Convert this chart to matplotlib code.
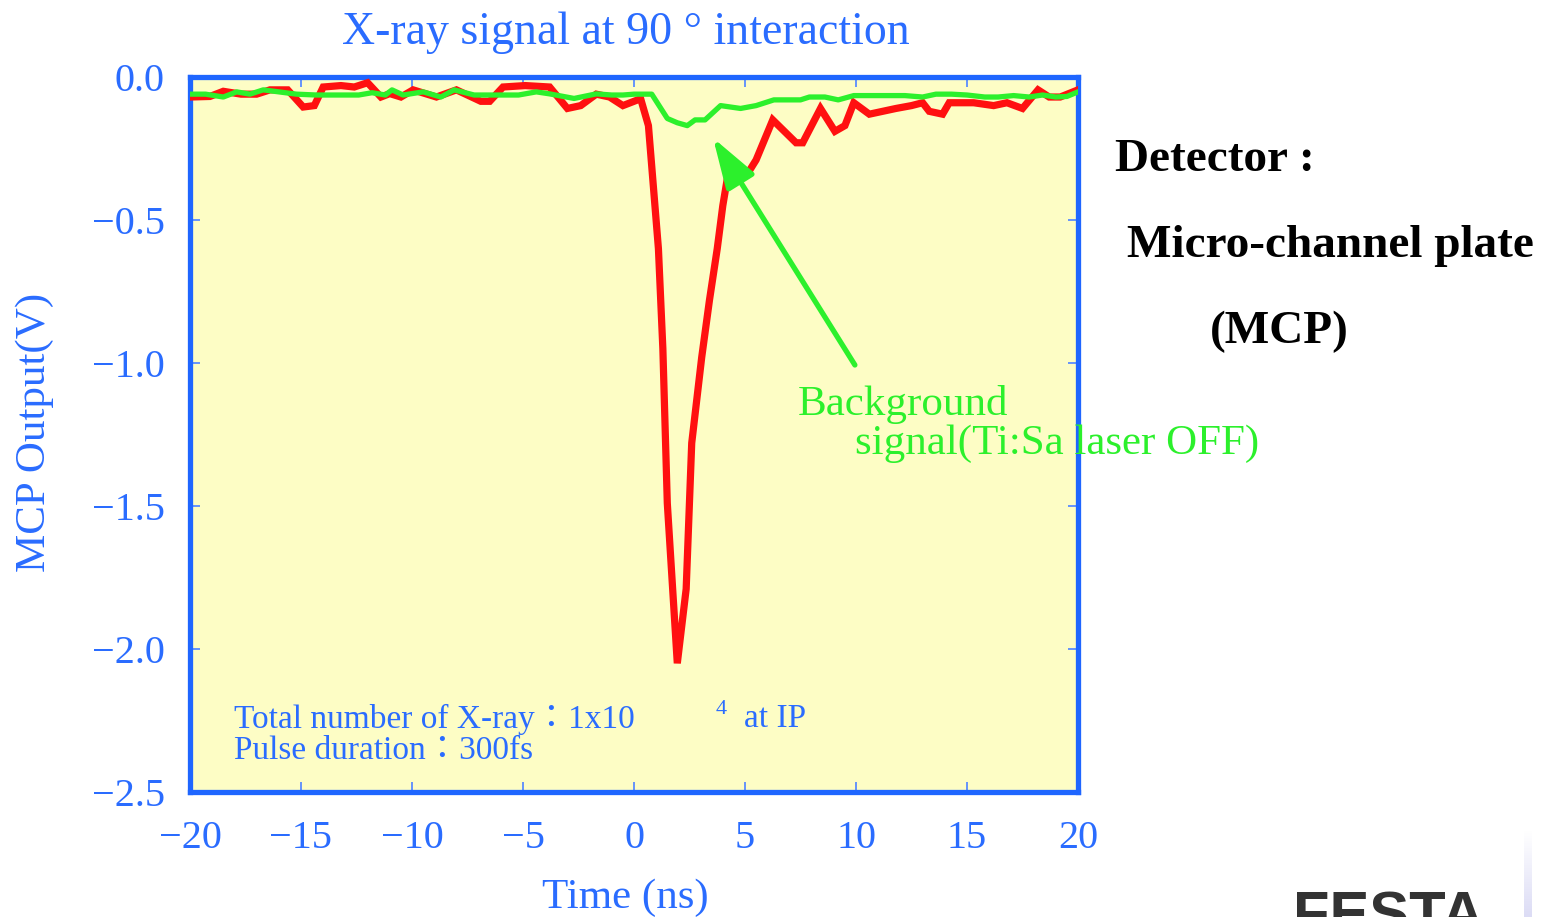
import matplotlib.pyplot as plt
import numpy as np
from matplotlib.colors import LinearSegmentedColormap
from matplotlib.ticker import FuncFormatter

W, H = 1544, 917

BLUE = "#2a6cff"
SPINE = "#1f66ff"
TICK = "#5a8cff"
RED = "#ff1010"
GREEN = "#2cf02c"
PANEL = "#fdfdc5"
SERIF = ["Liberation Serif", "Noto Sans CJK JP", "DejaVu Sans"]

# MCP output with the Ti:Sa laser on (red) and off (green)
t_signal = [-20, -19.1, -18.5, -17.7, -17.0, -16.4, -15.6, -14.9, -14.4, -14.0,
            -13.2, -12.6, -12.0, -11.4, -11.0, -10.5, -9.95, -8.9, -8.0, -6.9,
            -6.5, -5.9, -4.9, -3.8, -3.0, -2.4, -1.7, -1.1, -0.5, 0.3,
            0.65, 1.1, 1.3, 1.5, 1.95, 2.35, 2.6, 3.05, 3.4, 3.75,
            4.0, 4.3, 5.1, 5.5, 6.25, 7.3, 7.6, 8.4, 9.05, 9.5,
            9.9, 10.6, 11.2, 11.8, 12.5, 13.0, 13.3, 13.9, 14.2, 15.3,
            16.2, 16.8, 17.5, 18.2, 18.7, 19.2, 20]
v_signal = [-0.07, -0.068, -0.05, -0.06, -0.06, -0.045, -0.045, -0.105, -0.10, -0.035,
            -0.03, -0.035, -0.02, -0.07, -0.058, -0.07, -0.045, -0.07, -0.045, -0.085,
            -0.085, -0.035, -0.03, -0.035, -0.11, -0.10, -0.06, -0.07, -0.10, -0.076,
            -0.17, -0.60, -0.95, -1.49, -2.05, -1.79, -1.28, -0.98, -0.78, -0.60,
            -0.45, -0.31, -0.34, -0.29, -0.15, -0.23, -0.23, -0.11, -0.19, -0.17,
            -0.09, -0.13, -0.12, -0.11, -0.10, -0.09, -0.12, -0.13, -0.09, -0.09,
            -0.10, -0.09, -0.11, -0.045, -0.07, -0.07, -0.045]

t_background = [-20, -19.3, -18.5, -17.9, -17.3, -16.7, -16.0, -15.2, -14.3, -13.3,
                -12.4, -11.8, -11.2, -10.9, -10.4, -9.5, -8.7, -8.1, -7.2, -6.0,
                -5.2, -4.4, -3.8, -2.7, -1.7, -1.0, -0.5, 0.0, 0.8, 1.5,
                1.95, 2.4, 2.75, 3.2, 3.9, 4.8, 5.5, 6.3, 6.9, 7.5,
                7.9, 8.6, 9.2, 9.9, 10.8, 11.5, 12.2, 13.0, 13.6, 14.3,
                15.0, 15.8, 16.4, 17.1, 17.8, 18.4, 19.0, 19.5, 20]
v_background = [-0.06, -0.06, -0.07, -0.052, -0.06, -0.045, -0.052, -0.06, -0.063, -0.063,
                -0.063, -0.055, -0.063, -0.045, -0.063, -0.052, -0.07, -0.045, -0.063, -0.063,
                -0.063, -0.052, -0.059, -0.075, -0.059, -0.063, -0.063, -0.06, -0.06, -0.145,
                -0.16, -0.17, -0.15, -0.15, -0.10, -0.11, -0.10, -0.08, -0.08, -0.08,
                -0.07, -0.07, -0.08, -0.065, -0.065, -0.065, -0.065, -0.07, -0.06, -0.06,
                -0.063, -0.07, -0.07, -0.065, -0.07, -0.063, -0.07, -0.068, -0.052]

x_ticks = [-20, -15, -10, -5, 0, 5, 10, 15, 20]
y_ticks = [0.0, -0.5, -1.0, -1.5, -2.0, -2.5]
arrow_tip = (3.56, -0.213)
arrow_tail = (9.95, -1.007)


def px(x, y):
    """Pixel position (from top-left) to figure fraction."""
    return x / W, 1 - y / H


fig = plt.figure(figsize=(W / 100, H / 100), dpi=100)
left, top = px(190, 77)
right, bottom = px(1078, 792)
ax = fig.add_axes([left, bottom, right - left, top - bottom])
ax.set_facecolor(PANEL)

ax.plot(t_signal, v_signal, color=RED, lw=5.2, solid_joinstyle="miter", zorder=3)
ax.plot(t_background, v_background, color=GREEN, lw=3.8, zorder=4)

ax.annotate("", xy=arrow_tip, xytext=arrow_tail,
            arrowprops=dict(arrowstyle="-|>,head_length=1.4,head_width=0.45",
                            mutation_scale=22, color=GREEN, lw=3.8,
                            shrinkA=0, shrinkB=0), zorder=5)

ax.set_xlim(-20, 20)
ax.set_ylim(-2.5, 0)
ax.set_xticks(x_ticks)
ax.set_yticks(y_ticks)
ax.yaxis.set_major_formatter(FuncFormatter(lambda v, _: f"{v:.1f}".replace("-", "\u2212")))
ax.tick_params(direction="in", length=7, width=1.3, color=TICK,
               top=True, right=True, labelcolor=BLUE, labelsize=29)
ax.tick_params(axis="x", pad=20)
ax.tick_params(axis="y", pad=18)
for lab in ax.get_xticklabels() + ax.get_yticklabels():
    lab.set_family(SERIF)
for sp in ax.spines.values():
    sp.set_color(SPINE)
    sp.set_linewidth(3.8)

fig.text(*px(626, 33), "X-ray signal at 90 ° interaction", color=BLUE,
         fontsize=33, family=SERIF, ha="center", va="center")
fig.text(*px(35, 432), "MCP Output(V)", color=BLUE, fontsize=31,
         family=SERIF, rotation=90, ha="center", va="center")
fig.text(*px(625, 898), "Time (ns)", color=BLUE, fontsize=31,
         family=SERIF, ha="center", va="center")

fig.text(*px(234, 719), "Total number of X-ray：1x10", color=BLUE,
         fontsize=24, family=SERIF, ha="left", va="center")
fig.text(*px(716, 709), "4", color=BLUE, fontsize=16, family=SERIF,
         ha="left", va="center")
fig.text(*px(744, 719), "at IP", color=BLUE, fontsize=24, family=SERIF,
         ha="left", va="center")
fig.text(*px(234, 751), "Pulse duration：300fs", color=BLUE,
         fontsize=24, family=SERIF, ha="left", va="center")

fig.text(*px(798, 404), "Background", color=GREEN, fontsize=31,
         family=SERIF, ha="left", va="center", zorder=10)
fig.text(*px(855, 444), "signal(Ti:Sa laser OFF)", color=GREEN, fontsize=31,
         family=SERIF, ha="left", va="center", zorder=10)

bold = dict(color="black", fontsize=34, family="Liberation Serif",
            weight="bold", ha="left", va="center")
fig.text(*px(1115, 160), "Detector :", **bold)
fig.text(*px(1127, 246), "Micro-channel plate", **bold)
fig.text(*px(1210, 332), "(MCP)", **bold)

# logo peeking in at the lower edge
fig.text(*px(1293, 934), "FESTA", color="#333333", fontsize=43,
         family="Liberation Sans", weight="bold", ha="left", va="baseline")
bar = fig.add_axes([1524 / W, 0, 8 / W, 87 / H])
bar.imshow(np.linspace(0, 1, 50)[:, None], aspect="auto", origin="lower",
           cmap=LinearSegmentedColormap.from_list("fade", ["#dcdcf5", "#ffffff"]))
bar.axis("off")

fig.savefig("out.png", dpi=100)
